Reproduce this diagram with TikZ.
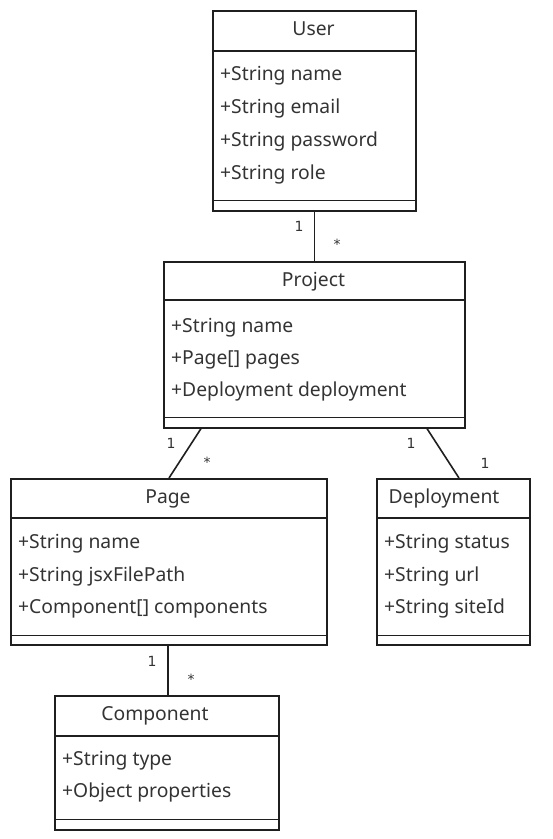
\documentclass[tikz,border=0pt]{standalone}
\usepackage{fontspec}
\setmainfont{Noto Sans}
\newfontfamily\multfont{DejaVu Sans}
\begin{document}
\begin{tikzpicture}[x=1pt,y=-1pt,
  cls/.style={draw=black!88, line width=1.6pt, inner sep=0pt, anchor=north west},
  div/.style={draw=black!88, line width=1.4pt},
  conn/.style={draw=black!88, line width=1.6pt},
  title/.style={text=black!80, font=\fontsize{19.3}{22}\selectfont, inner sep=0pt, anchor=base},
  attr/.style={text=black!80, font=\fontsize{19.3}{22}\selectfont, inner sep=0pt, anchor=base west},
  mult/.style={text=black!80, font=\multfont\fontsize{14}{16}\selectfont, inner sep=0pt}]
\useasboundingbox (0,0) rectangle (553,839);

% User
\node[cls, minimum width=203pt, minimum height=200pt] (user) at (212,10) {};
\draw[div] ([yshift=-41pt]user.north west) -- ([yshift=-41pt]user.north east);
\draw[div] ([yshift=11pt]user.south west) -- ([yshift=11pt]user.south east);
\node[title] (usert) at (313.5,35) {User};
\node[attr] (u1) at (220,80) {+String name};
\node[attr] (u2) at (220,113) {+String email};
\node[attr] (u3) at (220,146) {+String password};
\node[attr] (u4) at (220,179) {+String role};

% Project
\node[cls, minimum width=301pt, minimum height=166pt] (project) at (163,261) {};
\draw[div] ([yshift=-39pt]project.north west) -- ([yshift=-39pt]project.north east);
\draw[div] ([yshift=11pt]project.south west) -- ([yshift=11pt]project.south east);
\node[title] (projectt) at (313.5,286) {Project};
\node[attr] (p1) at (171,332) {+String name};
\node[attr] (p2) at (171,364) {+Page[] pages};
\node[attr] (p3) at (171,396) {+Deployment deployment};

% Page
\node[cls, minimum width=316pt, minimum height=166pt] (page) at (10,478) {};
\draw[div] ([yshift=-40pt]page.north west) -- ([yshift=-40pt]page.north east);
\draw[div] ([yshift=10pt]page.south west) -- ([yshift=10pt]page.south east);
\node[title] (paget) at (168,503) {Page};
\node[attr] (g1) at (18,548) {+String name};
\node[attr] (g2) at (18,581) {+String jsxFilePath};
\node[attr] (g3) at (18,613) {+Component[] components};

% Deployment
\node[cls, minimum width=153pt, minimum height=166pt] (deploy) at (376,478) {};
\draw[div] ([yshift=-40pt]deploy.north west) -- ([yshift=-40pt]deploy.north east);
\draw[div] ([yshift=10pt]deploy.south west) -- ([yshift=10pt]deploy.south east);
\node[title] (deployt) at (444,503) {Deployment};
\node[attr] (d1) at (384,548) {+String status};
\node[attr] (d2) at (384,581) {+String url};
\node[attr] (d3) at (384,613) {+String siteId};

% Component
\node[cls, minimum width=224pt, minimum height=134pt] (comp) at (54,695) {};
\draw[div] ([yshift=-41pt]comp.north west) -- ([yshift=-41pt]comp.north east);
\draw[div] ([yshift=11pt]comp.south west) -- ([yshift=11pt]comp.south east);
\node[title] (compt) at (155,720) {Component};
\node[attr] (c1) at (62,765) {+String type};
\node[attr] (c2) at (62,797) {+Object properties};

% Connectors
\draw[conn] (user.south) -- (project.north);
\draw[conn] ([xshift=38pt]project.south west) -- ([xshift=159pt]page.north west);
\draw[conn] ([xshift=264pt]project.south west) -- ([xshift=83pt]deploy.north west);
\draw[conn] ([xshift=158pt]page.south west) -- ([xshift=114pt]comp.north west);

% Multiplicities
\node[mult] (m1) at (299,226) {1};
\node[mult] (m2) at (337,244) {*};
\node[mult] (m3) at (171,443) {1};
\node[mult] (m4) at (207,462) {*};
\node[mult] (m5) at (411,443) {1};
\node[mult] (m6) at (485,463) {1};
\node[mult] (m7) at (152,661) {1};
\node[mult] (m8) at (191,679) {*};
\end{tikzpicture}
\end{document}
